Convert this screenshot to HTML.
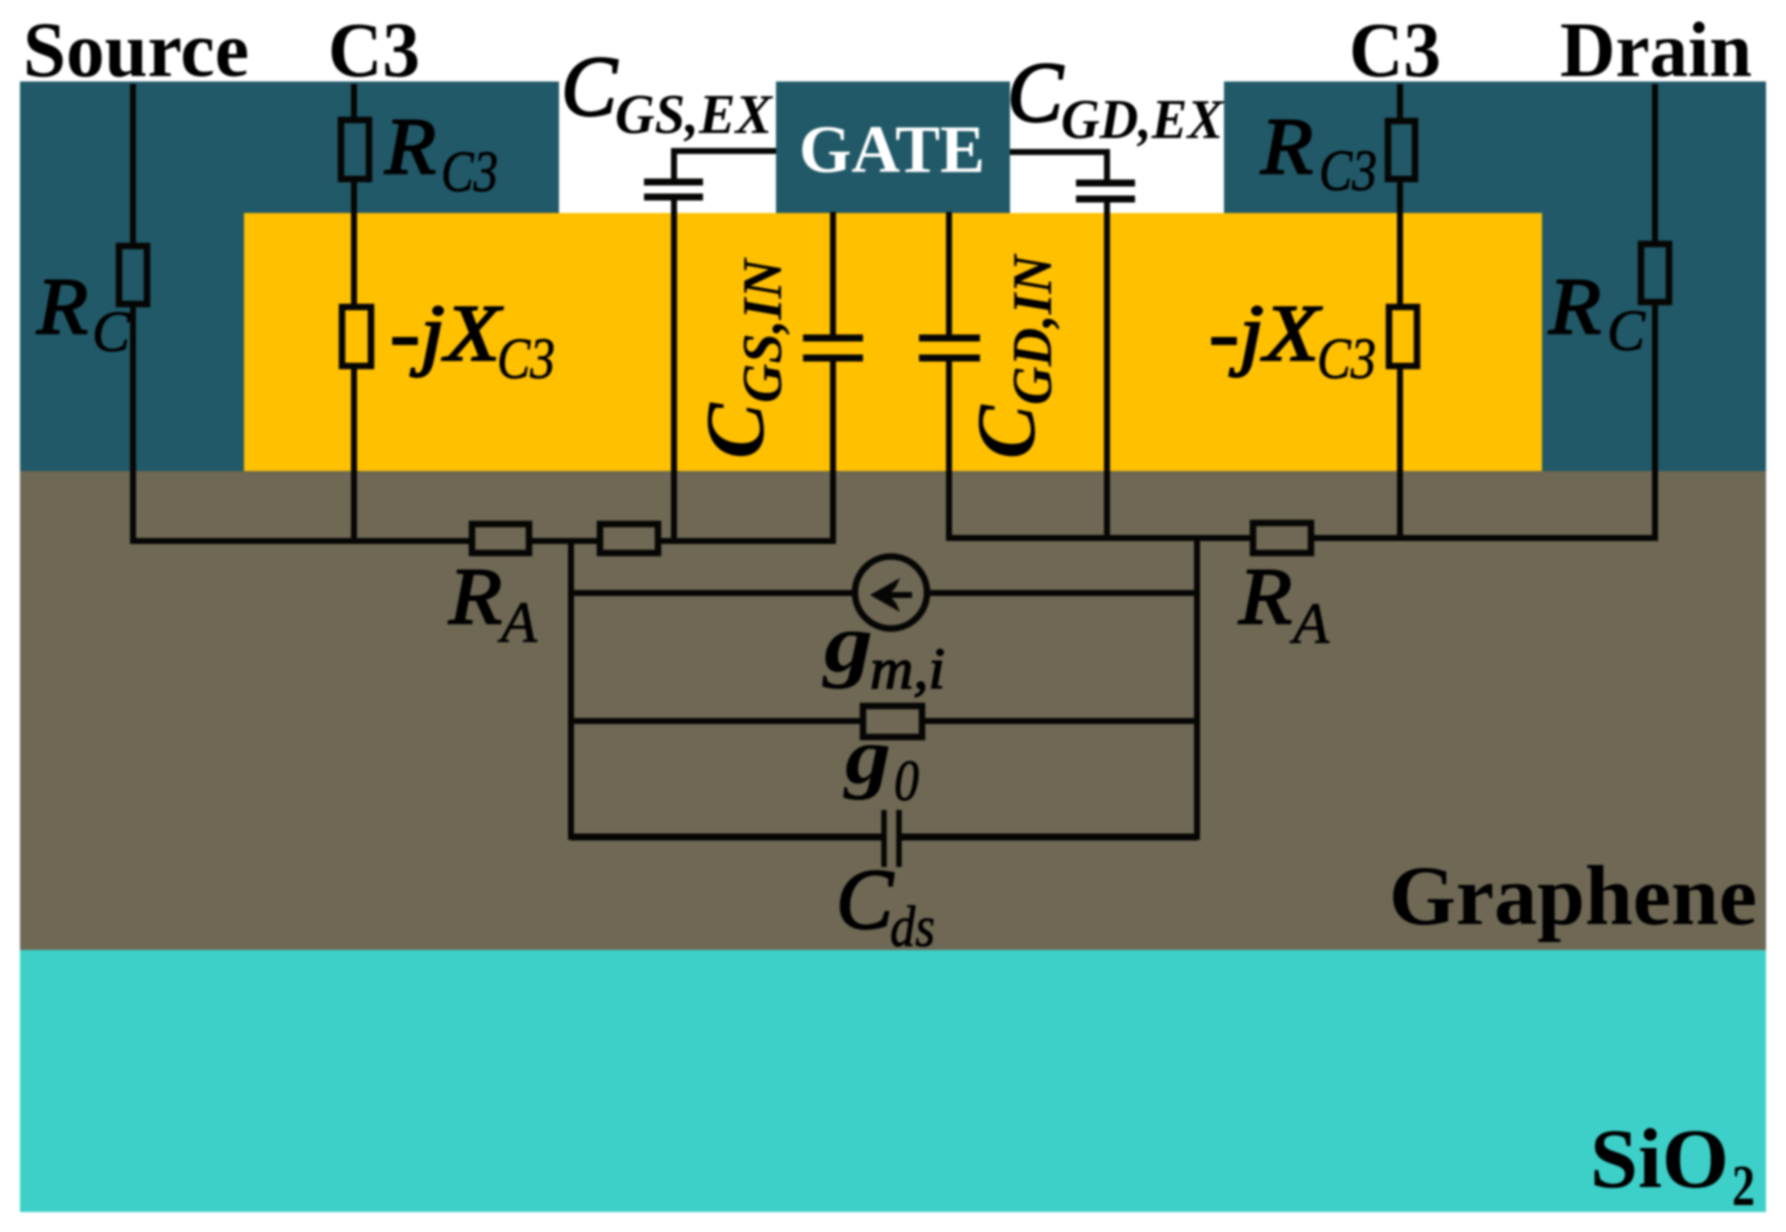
<!DOCTYPE html>
<html>
<head>
<meta charset="utf-8">
<style>
html,body{margin:0;padding:0;background:#fff;width:1786px;height:1232px;overflow:hidden}
svg{display:block;filter:blur(1.1px)}
text{font-family:"Liberation Serif",serif;fill:#000}
.b{font-weight:bold}
.i{font-weight:bold;font-style:italic}
.m{font-style:italic;stroke:#000;stroke-width:2}
.n{font-style:italic;stroke:#000;stroke-width:0.8}
.w{stroke:#060604;stroke-width:6;fill:none}
.pl{stroke:#060604;stroke-width:7;fill:none}
.rt{stroke:#060604;stroke-width:6.500;fill:#215968}
.ry{stroke:#060604;stroke-width:6.500;fill:#FFC000}
.rg{stroke:#060604;stroke-width:6.500;fill:#6E6854}
</style>
</head>
<body>
<svg width="1786" height="1232" viewBox="0 0 1786 1232" xmlns="http://www.w3.org/2000/svg">
<rect width="1786" height="1232" fill="#fff"/>
<!-- layers -->
<rect x="20" y="950" width="1746" height="262" fill="#3DD0C8"/>
<rect x="20" y="471" width="1746" height="479" fill="#6E6854"/>
<rect x="20" y="81.500" width="539" height="389.500" fill="#215968"/>
<rect x="1224" y="81.500" width="542" height="389.500" fill="#215968"/>
<rect x="776" y="81.500" width="234" height="132" fill="#215968"/>
<rect x="244" y="213" width="1298" height="258" fill="#FFC000"/>

<!-- wires -->
<path class="w" d="M133 84V541H833V212"/>
<path class="w" d="M354 84V541"/>
<path class="w" d="M674 541V151H776"/>
<path class="w" d="M1655 84V538H949V212"/>
<path class="w" d="M1400 84V538"/>
<path class="w" d="M1107 538V152H1010"/>
<path class="w" d="M571 541V837H1197V538"/>
<path class="w" d="M571 593H855M927 593H1197"/>
<path class="w" d="M571 721H1197"/>
<path class="pl" d="M571 837H1197"/>

<!-- breaks between capacitor plates -->
<rect x="670" y="184" width="8" height="11" fill="#fff"/>
<rect x="1103" y="186" width="8" height="11" fill="#fff"/>
<rect x="829" y="341" width="8" height="14" fill="#FFC000"/>
<rect x="945" y="341" width="8" height="14" fill="#FFC000"/>
<rect x="886.500" y="812" width="10" height="53" fill="#6E6854"/>

<!-- capacitor plates -->
<path class="pl" d="M644 182H703M644 197H703"/>
<path class="pl" d="M803 338H863M803 358H863"/>
<path class="pl" d="M1076 183H1135M1076 199H1135"/>
<path class="pl" d="M919 338H980M919 358H980"/>
<path d="M884 810V867M899 810V867" stroke="#060604" stroke-width="5.500" fill="none"/>

<!-- resistors -->
<rect class="rt" x="119" y="246" width="28" height="58"/>
<rect class="rt" x="341" y="120" width="28" height="59"/>
<rect class="ry" x="342" y="307" width="29" height="59"/>
<rect class="rg" x="472" y="524" width="57" height="29"/>
<rect class="rg" x="600" y="524" width="58" height="29"/>
<rect class="rt" x="1388" y="121" width="27" height="58"/>
<rect class="ry" x="1389" y="307" width="28" height="59"/>
<rect class="rt" x="1641" y="244" width="28" height="58"/>
<rect class="rg" x="1253" y="523" width="58" height="30"/>
<rect class="rg" x="863" y="706" width="59" height="31"/>

<!-- current source -->
<circle cx="891" cy="592.500" r="36" stroke="#060604" stroke-width="6.500" fill="#6E6854"/>
<path class="w" d="M878 595H912"/>
<path d="M870 595L900 578L896 587L889 595L896 603L900 612Z" fill="#060604"/>

<!-- top labels -->
<text class="b" x="23" y="76" font-size="78" textLength="226" lengthAdjust="spacingAndGlyphs">Source</text>
<text class="b" x="328" y="76" font-size="78" textLength="92" lengthAdjust="spacingAndGlyphs">C3</text>
<text class="b" x="1349" y="76" font-size="78" textLength="92" lengthAdjust="spacingAndGlyphs">C3</text>
<text class="b" x="1560" y="76" font-size="78" textLength="192" lengthAdjust="spacingAndGlyphs">Drain</text>
<text class="b" x="799" y="172" font-size="68" textLength="186" lengthAdjust="spacingAndGlyphs" style="fill:#fff">GATE</text>

<!-- R_C -->
<text class="m" x="37" y="333" font-size="80" textLength="51" lengthAdjust="spacingAndGlyphs">R</text>
<text class="n" x="92" y="351" font-size="58" textLength="38" lengthAdjust="spacingAndGlyphs">C</text>
<text class="m" x="1549" y="333" font-size="80" textLength="52" lengthAdjust="spacingAndGlyphs">R</text>
<text class="n" x="1607" y="350" font-size="58" textLength="38" lengthAdjust="spacingAndGlyphs">C</text>

<!-- R_C3 -->
<text class="m" x="385" y="173" font-size="80" textLength="51" lengthAdjust="spacingAndGlyphs">R</text>
<text class="n" x="441" y="191" font-size="58" textLength="57" lengthAdjust="spacingAndGlyphs">C3</text>
<text class="m" x="1261" y="173" font-size="80" textLength="52" lengthAdjust="spacingAndGlyphs">R</text>
<text class="n" x="1319" y="190" font-size="58" textLength="58" lengthAdjust="spacingAndGlyphs">C3</text>

<!-- -jX_C3 -->
<text class="m" x="390" y="360" font-size="80" textLength="110" lengthAdjust="spacingAndGlyphs">-jX</text>
<text class="n" x="497" y="378" font-size="58" textLength="58" lengthAdjust="spacingAndGlyphs">C3</text>
<text class="m" x="1209" y="360" font-size="80" textLength="110" lengthAdjust="spacingAndGlyphs">-jX</text>
<text class="n" x="1317" y="378" font-size="58" textLength="59" lengthAdjust="spacingAndGlyphs">C3</text>

<!-- external caps -->
<text class="m" x="561" y="115" font-size="86" textLength="56" lengthAdjust="spacingAndGlyphs">C</text>
<text class="i" x="615" y="133" font-size="56" textLength="157" lengthAdjust="spacingAndGlyphs">GS,EX</text>
<text class="m" x="1007" y="121" font-size="86" textLength="56" lengthAdjust="spacingAndGlyphs">C</text>
<text class="i" x="1061" y="138" font-size="56" textLength="162" lengthAdjust="spacingAndGlyphs">GD,EX</text>

<!-- internal rotated caps -->
<text class="i" transform="translate(763 459) rotate(-90)" font-size="84" textLength="56" lengthAdjust="spacingAndGlyphs">C</text>
<text class="i" transform="translate(781 403) rotate(-90)" font-size="56" textLength="144" lengthAdjust="spacingAndGlyphs">GS,IN</text>
<text class="i" transform="translate(1034 459) rotate(-90)" font-size="84" textLength="54" lengthAdjust="spacingAndGlyphs">C</text>
<text class="i" transform="translate(1051 405) rotate(-90)" font-size="56" textLength="150" lengthAdjust="spacingAndGlyphs">GD,IN</text>

<!-- R_A -->
<text class="m" x="449" y="623" font-size="80" textLength="53" lengthAdjust="spacingAndGlyphs">R</text>
<text class="n" x="501" y="642" font-size="58" textLength="36" lengthAdjust="spacingAndGlyphs">A</text>
<text class="m" x="1239" y="623" font-size="80" textLength="53" lengthAdjust="spacingAndGlyphs">R</text>
<text class="n" x="1293" y="643" font-size="58" textLength="36" lengthAdjust="spacingAndGlyphs">A</text>

<!-- g -->
<text class="i" x="824" y="671" font-size="84" textLength="49" lengthAdjust="spacingAndGlyphs">g</text>
<text class="n" x="870" y="688" font-size="58" textLength="75" lengthAdjust="spacingAndGlyphs" style="stroke-width:1.400">m,i</text>
<text class="i" x="845" y="783" font-size="80" textLength="46" lengthAdjust="spacingAndGlyphs">g</text>
<text class="n" x="894" y="800" font-size="58" textLength="25" lengthAdjust="spacingAndGlyphs">0</text>

<!-- C_ds -->
<text class="m" x="836" y="928" font-size="86" textLength="57" lengthAdjust="spacingAndGlyphs">C</text>
<text class="n" x="890" y="946" font-size="58" textLength="45" lengthAdjust="spacingAndGlyphs">ds</text>

<!-- layer names -->
<text class="b" x="1389" y="924" font-size="85" textLength="368" lengthAdjust="spacingAndGlyphs">Graphene</text>
<text class="b" x="1590" y="1187" font-size="85" textLength="139" lengthAdjust="spacingAndGlyphs">SiO</text>
<text class="b" x="1732" y="1205" font-size="58" textLength="23" lengthAdjust="spacingAndGlyphs">2</text>
</svg>
</body>
</html>
